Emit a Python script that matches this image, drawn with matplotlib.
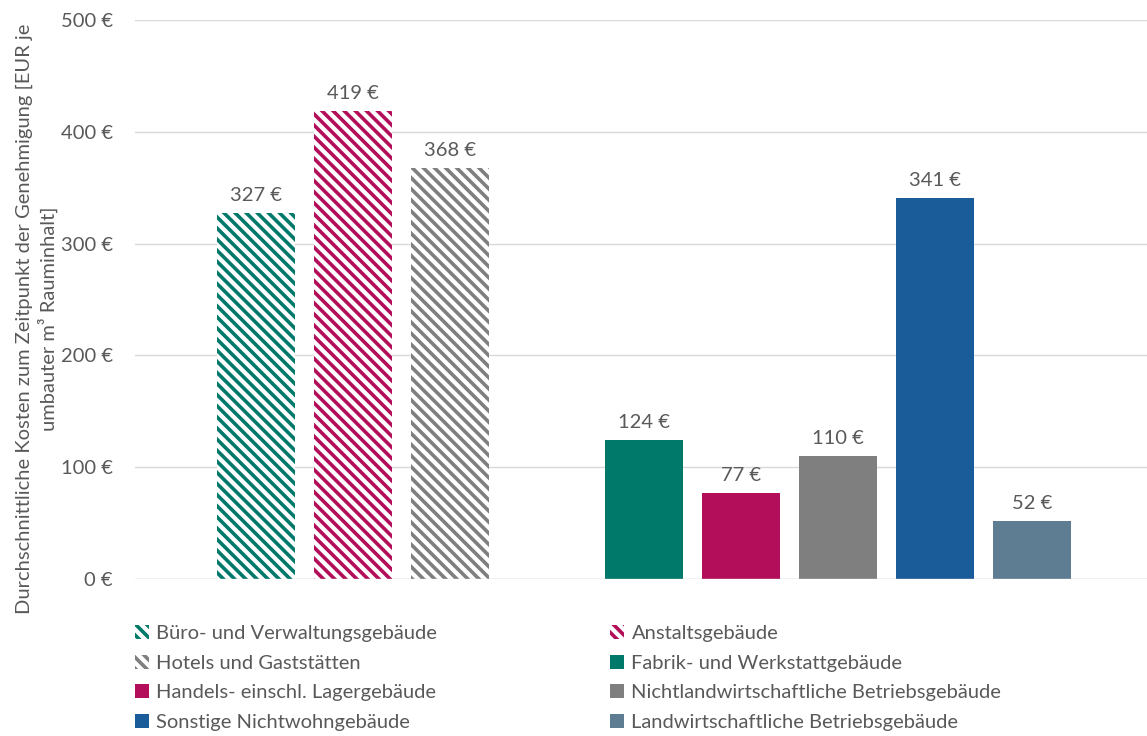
import matplotlib.pyplot as plt
from matplotlib.patches import Patch

plt.rcParams['font.family'] = ['Lato', 'DejaVu Sans']
plt.rcParams['hatch.linewidth'] = 2.6

# data
kategorien = ["Büro- und Verwaltungsgebäude", "Anstaltsgebäude", "Hotels und Gaststätten",
              "Fabrik- und Werkstattgebäude", "Handels- einschl. Lagergebäude",
              "Nichtlandwirtschaftliche Betriebsgebäude", "Sonstige Nichtwohngebäude",
              "Landwirtschaftliche Betriebsgebäude"]
kosten = [327, 419, 368, 124, 77, 110, 341, 52]
schraffiert = [True, True, True, False, False, False, False, False]
farben = ["#00796b", "#b30e5a", "#7f7f7f", "#00796b", "#b30e5a", "#7f7f7f", "#1a5c99", "#5e7d92"]
y_ticks = [0, 100, 200, 300, 400, 500]

txt = "#595959"
fs = 14.5
muster = "\\\\\\"
fig = plt.figure(figsize=(11.47, 7.36), dpi=100)
ax = fig.add_axes([135/1147, 157/736, 1 - 135/1147, 559/736])

# positions: first group 0..2, gap, second group 4..8
pos = [0, 1, 2, 4, 5, 6, 7, 8]
handles = []
for p, v, h, c, name in zip(pos, kosten, schraffiert, farben, kategorien):
    if h:
        ax.bar(p, v, width=0.8, facecolor="white", edgecolor=c, hatch=muster, linewidth=0, zorder=3)
        handles.append(Patch(facecolor="white", edgecolor=c, hatch=muster, linewidth=0, label=name))
    else:
        ax.bar(p, v, width=0.8, color=c, linewidth=0, zorder=3)
        handles.append(Patch(facecolor=c, linewidth=0, label=name))
    ax.text(p, v + 8, f"{v} €", ha="center", va="bottom", fontsize=fs, color=txt)

ax.set_xlim(-1.247, 9.186)
ax.set_ylim(0, 500)
ax.set_yticks(y_ticks)
ax.set_yticklabels([f"{t} €" for t in y_ticks])
ax.set_xticks([])
ax.tick_params(axis="y", length=0, pad=16, labelsize=fs, labelcolor=txt)
ax.grid(axis="y", color="#d9d9d9", linewidth=1, zorder=0)
for s in ax.spines.values():
    s.set_visible(False)
ax.axhline(0, color="#d9d9d9", linewidth=1, zorder=4)

ax.set_ylabel("Durchschnittliche Kosten zum Zeitpunkt der Genehmigung [EUR je\numbauter m³ Rauminhalt]",
              fontsize=fs, color=txt, linespacing=1.3)
ax.yaxis.set_label_coords(-0.076, 0.465)

# legend row-major order
order = [0, 2, 4, 6, 1, 3, 5, 7]
leg = fig.legend([handles[i] for i in order], [kategorien[i] for i in order], ncol=2,
                 loc="upper left", bbox_to_anchor=(117/1147, 1 - 607/736), frameon=False,
                 fontsize=fs, handlelength=0.7, handleheight=0.7, handletextpad=0.35,
                 columnspacing=8.6, labelspacing=0.62, labelcolor=txt)

fig.savefig("out.png", dpi=100)
